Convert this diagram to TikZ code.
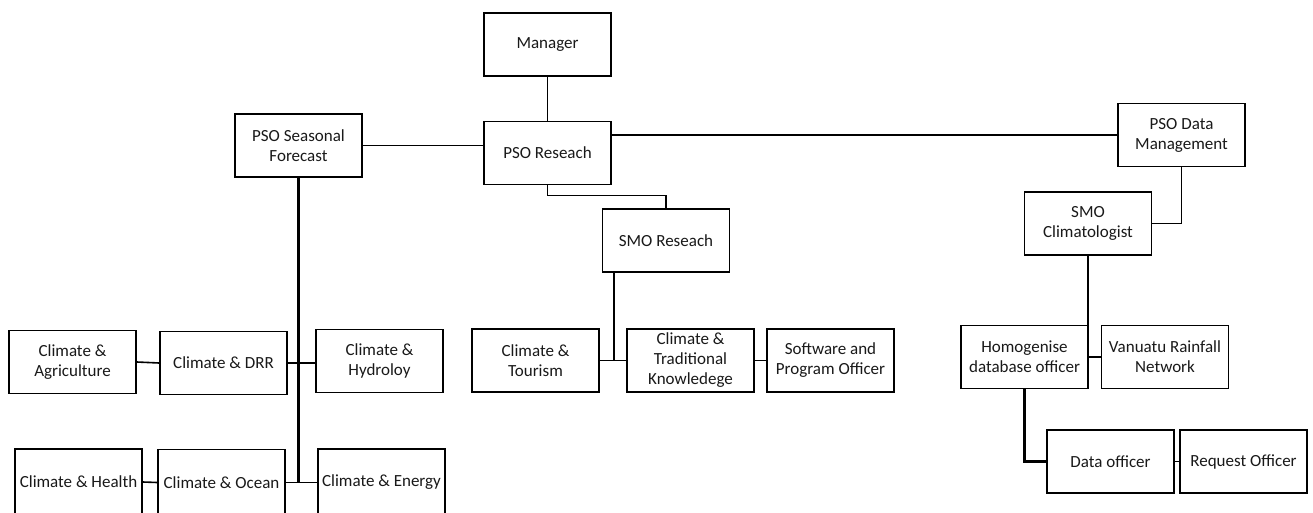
\documentclass[tikz,border=0pt]{standalone}
\usepackage{fontspec}
\setmainfont{Carlito}
\begin{document}
\begin{tikzpicture}[x=1pt,y=-1pt,
  orgbox/.style={draw=black,line width=1.6pt,fill=white,minimum width=127pt,minimum height=63pt,
    inner sep=1pt,align=center,font=\fontsize{17}{20}\selectfont,text=black!90},
  cutbox/.style={orgbox,minimum height=66pt},
  conn/.style={draw=black,line width=1.6pt},
  thickconn/.style={draw=black,line width=2.6pt}]
\useasboundingbox (0,0) rectangle (1313,513);
\clip (0,0) rectangle (1313,513);
% nodes
\node[orgbox] (manager) at (547.5,44.5) {Manager};
\node[orgbox] (psores) at (547.5,153) {PSO Reseach};
\node[orgbox] (seasonal) at (298.5,145.5) {PSO Seasonal\\Forecast};
\node[orgbox] (smores) at (666,240.5) {SMO Reseach};
\node[orgbox] (tourism) at (535.5,360.5) {Climate \&\\Tourism};
\node[orgbox] (trad) at (690.5,360.5) {Climate \&\\Traditional\\Knowledege};
\node[orgbox] (soft) at (830.5,360.5) {Software and\\Program Officer};
\node[orgbox] (psodata) at (1181.5,135) {PSO Data\\Management};
\node[orgbox] (smoclim) at (1088,223.5) {SMO\\Climatologist};
\node[orgbox] (homog) at (1024.5,357) {Homogenise\\database officer};
\node[orgbox] (vrn) at (1165,357) {Vanuatu Rainfall\\Network};
\node[orgbox] (dataoff) at (1110.5,461.5) {Data officer};
\node[orgbox] (request) at (1243.5,461.5) {Request Officer};
\node[orgbox] (agri) at (72.5,362) {Climate \&\\Agriculture};
\node[orgbox] (drr) at (223.5,363) {Climate \& DRR};
\node[orgbox] (hydro) at (379.5,361) {Climate \&\\Hydroloy};
\node[cutbox] (health) at (78.5,482) {Climate \& Health};
\node[cutbox] (ocean) at (221.5,482.5) {Climate \& Ocean};
\node[cutbox] (energy) at (381.5,482) {Climate \& Energy};
% coordinates
\coordinate (smoj) at (614,360.5);
\coordinate (trunkend) at (298.5,482.5);
% connectors
\draw[conn] (manager.south) -- (psores.north);
\draw[conn] (seasonal.east) -- (seasonal.east -| psores.west);
\draw[conn,line width=1.3pt] (psodata.west -| psores.east) -- (psodata.west);
\draw[conn] (psores.south) -- ++(0,10) -| (smores.north);
\draw[conn] (smores.south -| smoj) -- (smoj);
\draw[conn] (tourism.east) -- (trad.west);
\draw[conn] (trad.east) -- (soft.west);
\draw[thickconn] (seasonal.south) -- (trunkend);
\draw[conn] (agri.east) -- (drr.west);
\draw[conn] (drr.east) -- (drr.east -| hydro.west);
\draw[conn] (health.east) -- (ocean.west);
\draw[conn] (ocean.east) -- (ocean.east -| energy.west);
\draw[conn] (psodata.south) |- (smoclim.east);
\draw[conn] (smoclim.south) -- (smoclim.south |- homog.north);
\draw[conn] (homog.east) -- (vrn.west);
\draw[thickconn] (homog.south) |- (dataoff.west);
\draw[conn] (dataoff.east) -- (request.west);
\end{tikzpicture}
\end{document}
